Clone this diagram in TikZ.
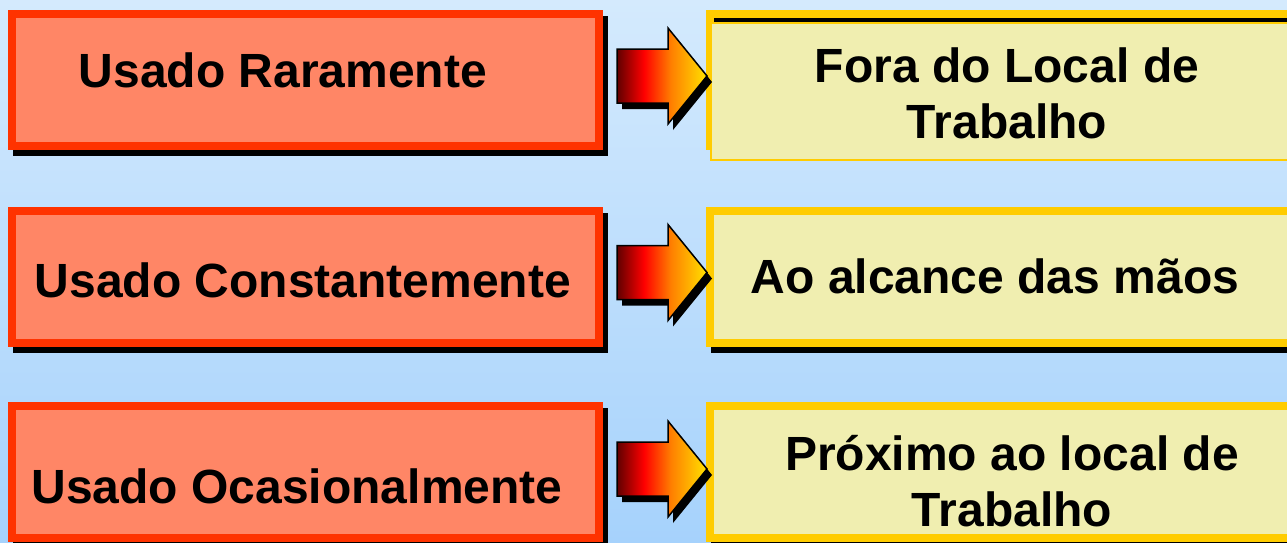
\documentclass[tikz,border=0pt]{standalone}
\usepackage{fontspec}
\setmainfont{Liberation Sans}
\usetikzlibrary{shadows}

\definecolor{salmon}{RGB}{255,134,102}
\definecolor{redline}{RGB}{255,51,0}
\definecolor{paleyel}{RGB}{240,238,176}
\definecolor{goldline}{RGB}{255,204,0}
\definecolor{bgtop}{RGB}{212,234,253}
\definecolor{bgbot}{RGB}{166,210,252}
\definecolor{darkred}{RGB}{96,0,0}
\definecolor{tipyel}{RGB}{255,226,0}
\pgfdeclarehorizontalshading{arrowshade}{100bp}{color(0bp)=(darkred); color(25bp)=(darkred); color(40bp)=(red); color(55bp)=(orange); color(75bp)=(tipyel); color(100bp)=(tipyel)}

\newcommand{\fatarrow}[1]{%
 \fill[black]([shift={(5,6)}]#1) ++(0,-27) -- ++(51,0) -- ++(0,-21) -- ++(39,48) -- ++(-39,48) -- ++(0,-21) -- ++(-51,0) -- cycle;
 \draw[black,line width=1.5pt,shade,shading=arrowshade](#1) ++(0,-27) -- ++(51,0) -- ++(0,-21) -- ++(39,48) -- ++(-39,48) -- ++(0,-21) -- ++(-51,0) -- cycle;}

\tikzset{
 usebox/.style={draw=redline,line width=8pt,fill=salmon,minimum width=587pt,minimum height=132pt,inner sep=0pt,
  general shadow={fill=black,draw=black,line width=8pt,shadow xshift=5pt,shadow yshift=-6pt}},
 placebox/.style={draw=goldline,line width=8pt,fill=paleyel,minimum width=590pt,minimum height=132pt,inner sep=0pt,
  general shadow={fill=black,draw=black,line width=8pt,shadow xshift=5pt,shadow yshift=-6pt}},
 txt/.style={inner sep=0pt,align=center,font=\fontsize{48}{56}\selectfont\bfseries}
}

\begin{document}
\begin{tikzpicture}[x=1pt,y=-1pt]
 \path[use as bounding box](0,0) rectangle (1287,542);
 \clip(0,0) rectangle (1287,542);
 \shade[top color=bgtop,bottom color=bgbot](0,0) rectangle (1287,542);

 % left column
 \node[usebox](u1) at (305.5,80) {};
 \node[usebox](u2) at (305.5,276.5) {};
 \node[usebox](u3) at (305.5,472) {};

 % right column
 \node[placebox](p1) at (1005,80) {};
 \fill[black](714,18) rectangle (1300,22);
 \draw[goldline,line width=1.5pt,fill=paleyel](711,23) rectangle (1300,160);
 \node[placebox](p2) at (1005,276.5) {};
 \node[placebox](p3) at (1005,472) {};

 % texts
 \node[txt,anchor=base](tu1) at (283,87) {Usado Raramente};
 \node[txt,anchor=base](tu2) at (303,297) {Usado Constantemente};
 \node[txt,anchor=base](tu3) at (297,503) {Usado Ocasionalmente};
 \node[txt,anchor=north](tp1) at (1007,47.5) {Fora do Local de\\Trabalho};
 \node[txt,anchor=base](tp2) at (995,293) {Ao alcance das mãos};
 \node[txt,anchor=north](tp3) at (1012,435) {Próximo ao local de\\Trabalho};

 % arrows
 \coordinate (a1) at ([xshift=14pt,yshift=4pt]u1.east);
 \coordinate (a2) at ([xshift=14pt,yshift=4pt]u2.east);
 \coordinate (a3) at ([xshift=14pt,yshift=3pt]u3.east);
 \fatarrow{a1}
 \fatarrow{a2}
 \fatarrow{a3}
\end{tikzpicture}
\end{document}
